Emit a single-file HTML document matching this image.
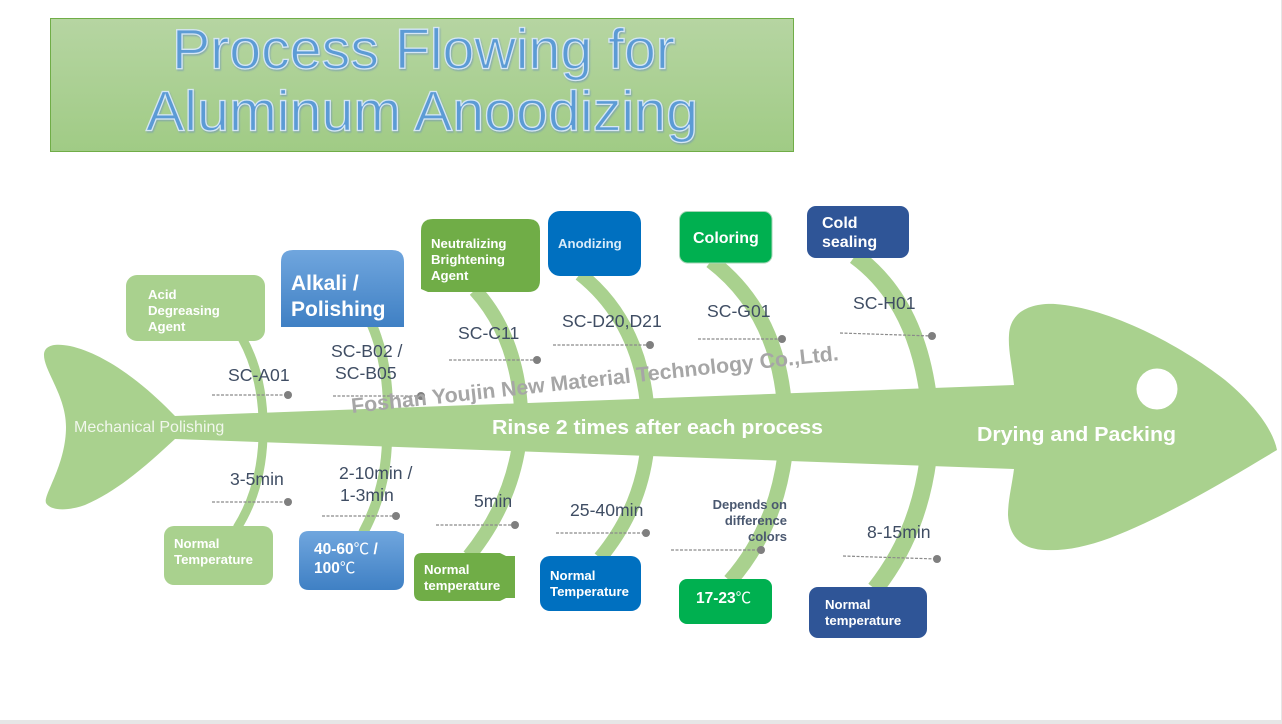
<!DOCTYPE html>
<html><head><meta charset="utf-8"><style>
html,body{margin:0;padding:0;background:#fff;width:1282px;height:724px;overflow:hidden}
svg{display:block}
text{font-family:"Liberation Sans","Noto Sans CJK SC",sans-serif}
.b{font-weight:bold;fill:#fff}
.l{font-size:17.6px;fill:#3f4d63}
.s{font-size:13.2px}
.rib{fill:none;stroke:#a9d18e}
.d{stroke:#8a8a8a;stroke-width:1.2;stroke-dasharray:3 1.5;fill:none}
.c{fill:#7f7f7f}
.t{font-size:57px;fill:#5b9bd5;stroke:#d5e6f5;stroke-width:1.3px;filter:url(#sh)}
.u{font-family:"Noto Sans CJK SC",sans-serif;font-weight:normal}
</style></head><body>
<svg width="1282" height="724" viewBox="0 0 1282 724" xmlns="http://www.w3.org/2000/svg">
<defs>
<linearGradient id="tg" x1="0" y1="0" x2="0" y2="1"><stop offset="0" stop-color="#b6d5a2"/><stop offset="1" stop-color="#a0cb85"/></linearGradient>
<linearGradient id="bg" x1="0" y1="0" x2="0" y2="1"><stop offset="0" stop-color="#70a6de"/><stop offset="1" stop-color="#3f80c4"/></linearGradient>
<filter id="sh" x="-5%" y="-10%" width="110%" height="125%"><feDropShadow dx="1" dy="1.5" stdDeviation="0.8" flood-color="#6f94b5" flood-opacity=".6"/></filter>
</defs>
<rect x="1281" y="0" width="1" height="724" fill="#e6e6e6"/>
<rect x="0" y="720" width="1282" height="4" fill="#e6e6e6"/>
<rect x="50.5" y="18.5" width="743" height="133" fill="url(#tg)" stroke="#70ad47"/>
<text class="t" x="172" y="68.500" textLength="503" lengthAdjust="spacingAndGlyphs">Process Flowing for</text>
<text class="t" x="146" y="130.500" textLength="552" lengthAdjust="spacingAndGlyphs">Aluminum Anoodizing</text>

<g class="rib">
<path stroke-width="9" d="M242 338Q261 372 263 418"/>
<path stroke-width="10" d="M372 325Q389 365 388 418"/>
<path stroke-width="14" d="M475 290Q516 335 521 408"/>
<path stroke-width="14" d="M580 274Q638 320 647 404"/>
<path stroke-width="15" d="M711 261Q775 310 784 400"/>
<path stroke-width="17" d="M855 256Q915 300 928 394"/>
<path stroke-width="9" d="M263 438Q261 490 237 528"/>
<path stroke-width="10" d="M387 440Q386 490 363 533"/>
<path stroke-width="14" d="M519 445Q510 505 469 556"/>
<path stroke-width="14" d="M647 450Q640 510 600 558"/>
<path stroke-width="15" d="M785 455Q775 530 730 581"/>
<path stroke-width="17" d="M928 460Q918 535 875 589"/>
</g>
<path fill="#a9d18e" d="M175 416L1014 385C1012 365 1008 350 1009 335C1010 312 1030 303 1055 304C1110 308 1180 345 1225 380C1255 405 1273 430 1277 450C1235 475 1170 515 1110 538C1085 547 1065 551 1045 550C1020 549 1009 535 1008 515C1008 500 1012 485 1014 469L175 439C150 462 120 490 85 505C65 512 50 510 46 503C43 495 66 465 66 427C66 395 43 370 44 354C45 345 55 343 70 346C110 355 150 390 175 416Z"/>
<circle cx="1157" cy="389" r="20.5" fill="#fff"/>

<rect x="126" y="275" width="139" height="66" rx="11" fill="#a9d18e"/>
<path d="M281 327V262Q281 250 293 250H392Q404 250 404 262V327Z" fill="url(#bg)"/>
<path d="M421 289V231Q421 219 433 219H528Q540 219 540 231V280Q540 292 528 292H428L421 289Z" fill="#70ad47"/>
<rect x="548" y="211" width="93" height="65" rx="12" fill="#0070c0"/>
<rect x="679.500" y="211.500" width="92.500" height="51.500" rx="8" fill="#00b050" stroke="#a5d6b6"/>
<rect x="807" y="206" width="102" height="52" rx="9" fill="#2f5597"/>
<rect x="164" y="526" width="109" height="59" rx="10" fill="#a9d18e"/>
<path d="M299 541Q299 531 309 531H396L404 534V580Q404 590 394 590H309Q299 590 299 580Z" fill="url(#bg)"/>
<path d="M414 561Q414 553 422 553H500L506 556H515V598H506L500 601H422Q414 601 414 593Z" fill="#70ad47"/>
<rect x="540" y="556" width="101" height="55" rx="10" fill="#0070c0"/>
<rect x="679" y="579" width="93" height="45" rx="8" fill="#00b050"/>
<rect x="809" y="587" width="118" height="51" rx="9" fill="#2f5597"/>

<g class="b s">
<text x="148" y="299">Acid</text><text x="148" y="315">Degreasing</text><text x="148" y="331">Agent</text>
<text x="431" y="248">Neutralizing</text><text x="431" y="264">Brightening</text><text x="431" y="280">Agent</text>
<text x="558" y="248" style="fill:#d9ecfa">Anodizing</text>
<text x="174" y="548">Normal</text><text x="174" y="564">Temperature</text>
<text x="424" y="574">Normal</text><text x="424" y="590">temperature</text>
<text x="550" y="580">Normal</text><text x="550" y="596">Temperature</text>
<text x="825" y="609">Normal</text><text x="825" y="625">temperature</text>
</g>
<g class="b">
<text x="291" y="290" font-size="21">Alkali /</text><text x="291" y="316" font-size="21">Polishing</text>
<text x="693" y="243" font-size="16">Coloring</text>
<text x="822" y="228" font-size="16">Cold</text><text x="822" y="247" font-size="16">sealing</text>
<text x="314" y="554" font-size="15.500">40-60<tspan class="u">℃</tspan> /</text><text x="314" y="573" font-size="15.500">100<tspan class="u">℃</tspan></text>
<text x="696" y="603" font-size="15.500">17-23<tspan class="u">℃</tspan></text>
</g>

<g class="l">
<text x="228" y="381">SC-A01</text>
<text x="331" y="357">SC-B02 /</text><text x="335" y="379">SC-B05</text>
<text x="230" y="485">3-5min</text>
<text x="339" y="479">2-10min /</text><text x="340" y="501">1-3min</text>
<text x="458" y="339">SC-C11</text>
<text x="562" y="327">SC-D20,D21</text>
<text x="707" y="317">SC-G01</text>
<text x="853" y="309">SC-H01</text>
<text x="474" y="507">5min</text>
<text x="570" y="516">25-40min</text>
<text x="867" y="538">8-15min</text>
</g>
<g font-size="13" font-weight="bold" fill="#4a5870" text-anchor="end">
<text x="787" y="509">Depends on</text><text x="787" y="525">difference</text><text x="787" y="541">colors</text>
</g>

<g class="d">
<path d="M212 395H288M212 502H288M333 396H421M322 516H396M449 360H537M553 345H650M698 339H782M840 333L932 336M436 525H515M556 533H646M671 550H761M843 556L937 559"/>
</g>
<g class="c">
<circle cx="288" cy="395" r="4"/><circle cx="288" cy="502" r="4"/><circle cx="421" cy="396" r="4"/><circle cx="396" cy="516" r="4"/>
<circle cx="537" cy="360" r="4"/><circle cx="650" cy="345" r="4"/><circle cx="782" cy="339" r="4"/><circle cx="932" cy="336" r="4"/>
<circle cx="515" cy="525" r="4"/><circle cx="646" cy="533" r="4"/><circle cx="761" cy="550" r="4"/><circle cx="937" cy="559" r="4"/>
</g>

<text x="74" y="432" font-size="16" fill="#f1f7ec">Mechanical Polishing</text>
<text class="b" x="492" y="434" font-size="20" textLength="331" lengthAdjust="spacingAndGlyphs">Rinse 2 times after each process</text>
<text class="b" x="977" y="441" font-size="20" textLength="199" lengthAdjust="spacingAndGlyphs">Drying and Packing</text>
<text transform="translate(352 413) rotate(-6.200)" font-size="21" font-weight="bold" fill="#a6a6a6" textLength="490" lengthAdjust="spacingAndGlyphs">Foshan Youjin New Material Technology Co.,Ltd.</text>
</svg>
</body></html>
